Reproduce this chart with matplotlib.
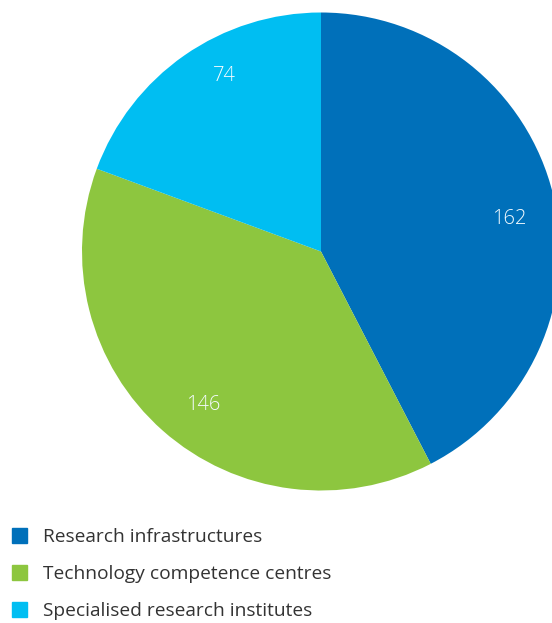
import numpy as np
import matplotlib.pyplot as plt
from matplotlib.patches import Rectangle

categories = ["Research infrastructures", "Technology competence centres",
              "Specialised research institutes"]
values = [162, 146, 74]
colors = ["#0070BA", "#8DC63F", "#00BEF2"]

W, H = 552, 623
fig = plt.figure(figsize=(W / 100, H / 100), dpi=100)

# pie centre at (321, 251.5) px from top-left, radius 239 px
cx, cy, r = 321, 251.5, 239
ax = fig.add_axes([(cx - r) / W, (H - cy - r) / H, 2 * r / W, 2 * r / H])
wedges, _ = ax.pie(values, colors=colors, startangle=90, counterclock=False,
                   radius=1, wedgeprops=dict(linewidth=0))
ax.set_xlim(-1, 1)
ax.set_ylim(-1, 1)
ax.set_aspect("equal")
ax.axis("off")

# value labels, nudged a little off each wedge's mid-angle
shift = [-4, 4, -6]
dist = [0.80, 0.81, 0.84]
for w, v, s, d in zip(wedges, values, shift, dist):
    ang = np.deg2rad((w.theta1 + w.theta2) / 2 + s)
    ax.text(d * np.cos(ang), d * np.sin(ang), str(v), ha="center", va="center",
            color="#f4fbff", fontsize=14.5, family="Open Sans", weight="light")

# legend drawn by hand under the pie
for i, (lab, col) in enumerate(zip(categories, colors)):
    yc = 535.5 + i * 37
    fig.add_artist(Rectangle((12 / W, (H - yc - 7.5) / H), 15 / W, 15 / H,
                             color=col, transform=fig.transFigure))
    fig.text(43 / W, (H - yc - 1.5) / H, lab, ha="left", va="center",
             color="#333333", fontsize=13.8, family="Open Sans")

fig.savefig("out.png", dpi=100)
